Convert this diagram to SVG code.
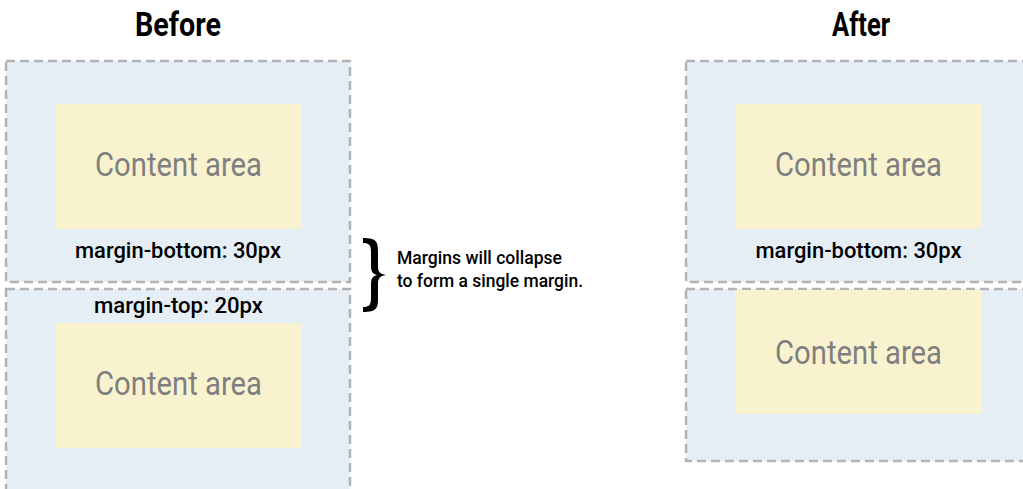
<svg xmlns="http://www.w3.org/2000/svg" width="1023" height="489" viewBox="0 0 1023 489">
<style>
.box{fill:#e6eef5;stroke:#b3b3b3;stroke-width:2.5;stroke-dasharray:9 5}
.content{fill:#f8f2cf}
.ctext{font-family:Roboto,"Liberation Sans",Arial,sans-serif;font-size:34px;fill:#7f7f7f;text-anchor:middle}
.mtext{font-family:Roboto,"Liberation Sans",Arial,sans-serif;font-size:22px;font-weight:500;fill:#000;text-anchor:middle}
.title{font-family:Roboto,"Liberation Sans",Arial,sans-serif;font-size:34px;font-weight:bold;fill:#000;text-anchor:middle}
.note{font-family:Roboto,"Liberation Sans",Arial,sans-serif;font-size:19px;font-weight:500;fill:#000}
</style>
<rect width="1023" height="489" fill="#fff"/>
<text class="title" x="178" y="36" textLength="86" lengthAdjust="spacingAndGlyphs">Before</text>
<text class="title" x="861" y="36" textLength="58" lengthAdjust="spacingAndGlyphs">After</text>
<g id="before-top">
<rect class="box" x="6" y="61" width="344" height="221"/>
<rect class="content" x="55" y="104" width="247" height="125"/>
<text class="ctext" x="178.5" y="176" textLength="167" lengthAdjust="spacingAndGlyphs">Content area</text>
<text class="mtext" x="178" y="258" textLength="206" lengthAdjust="spacingAndGlyphs">margin-bottom: 30px</text>
</g>
<g id="before-bottom">
<rect class="box" x="6" y="289" width="344" height="220"/>
<rect class="content" x="55" y="323" width="247" height="125"/>
<text class="mtext" x="178.5" y="313" textLength="169" lengthAdjust="spacingAndGlyphs">margin-top: 20px</text>
<text class="ctext" x="178.5" y="395" textLength="167" lengthAdjust="spacingAndGlyphs">Content area</text>
</g>
<g id="note">
<path d="M363,238 C377,238 378,242 378,252 L378,266 C378,272 380,274 386,275 C380,276 378,278 378,284 L378,298 C378,308 377,312 363,312 L363,307 C369,307 371,305 371,298 L371,284 C371,278 373,276 377,275 C373,274 371,272 371,266 L371,252 C371,245 369,243 363,243 Z" fill="#000"/>
<text class="note" x="397" y="264" textLength="165" lengthAdjust="spacingAndGlyphs">Margins will collapse</text>
<text class="note" x="397" y="287" textLength="186" lengthAdjust="spacingAndGlyphs">to form a single margin.</text>
</g>
<g id="after-top">
<rect class="box" x="686" y="61" width="344" height="221"/>
<rect class="content" x="735" y="104" width="247" height="125"/>
<text class="ctext" x="858.5" y="176" textLength="167" lengthAdjust="spacingAndGlyphs">Content area</text>
<text class="mtext" x="858.5" y="258" textLength="206" lengthAdjust="spacingAndGlyphs">margin-bottom: 30px</text>
</g>
<g id="after-bottom">
<rect class="box" x="686" y="289" width="344" height="172"/>
<rect class="content" x="735" y="290" width="247" height="124"/>
<text class="ctext" x="858.5" y="364" textLength="167" lengthAdjust="spacingAndGlyphs">Content area</text>
</g>
<g id="connectors"></g>
</svg>
